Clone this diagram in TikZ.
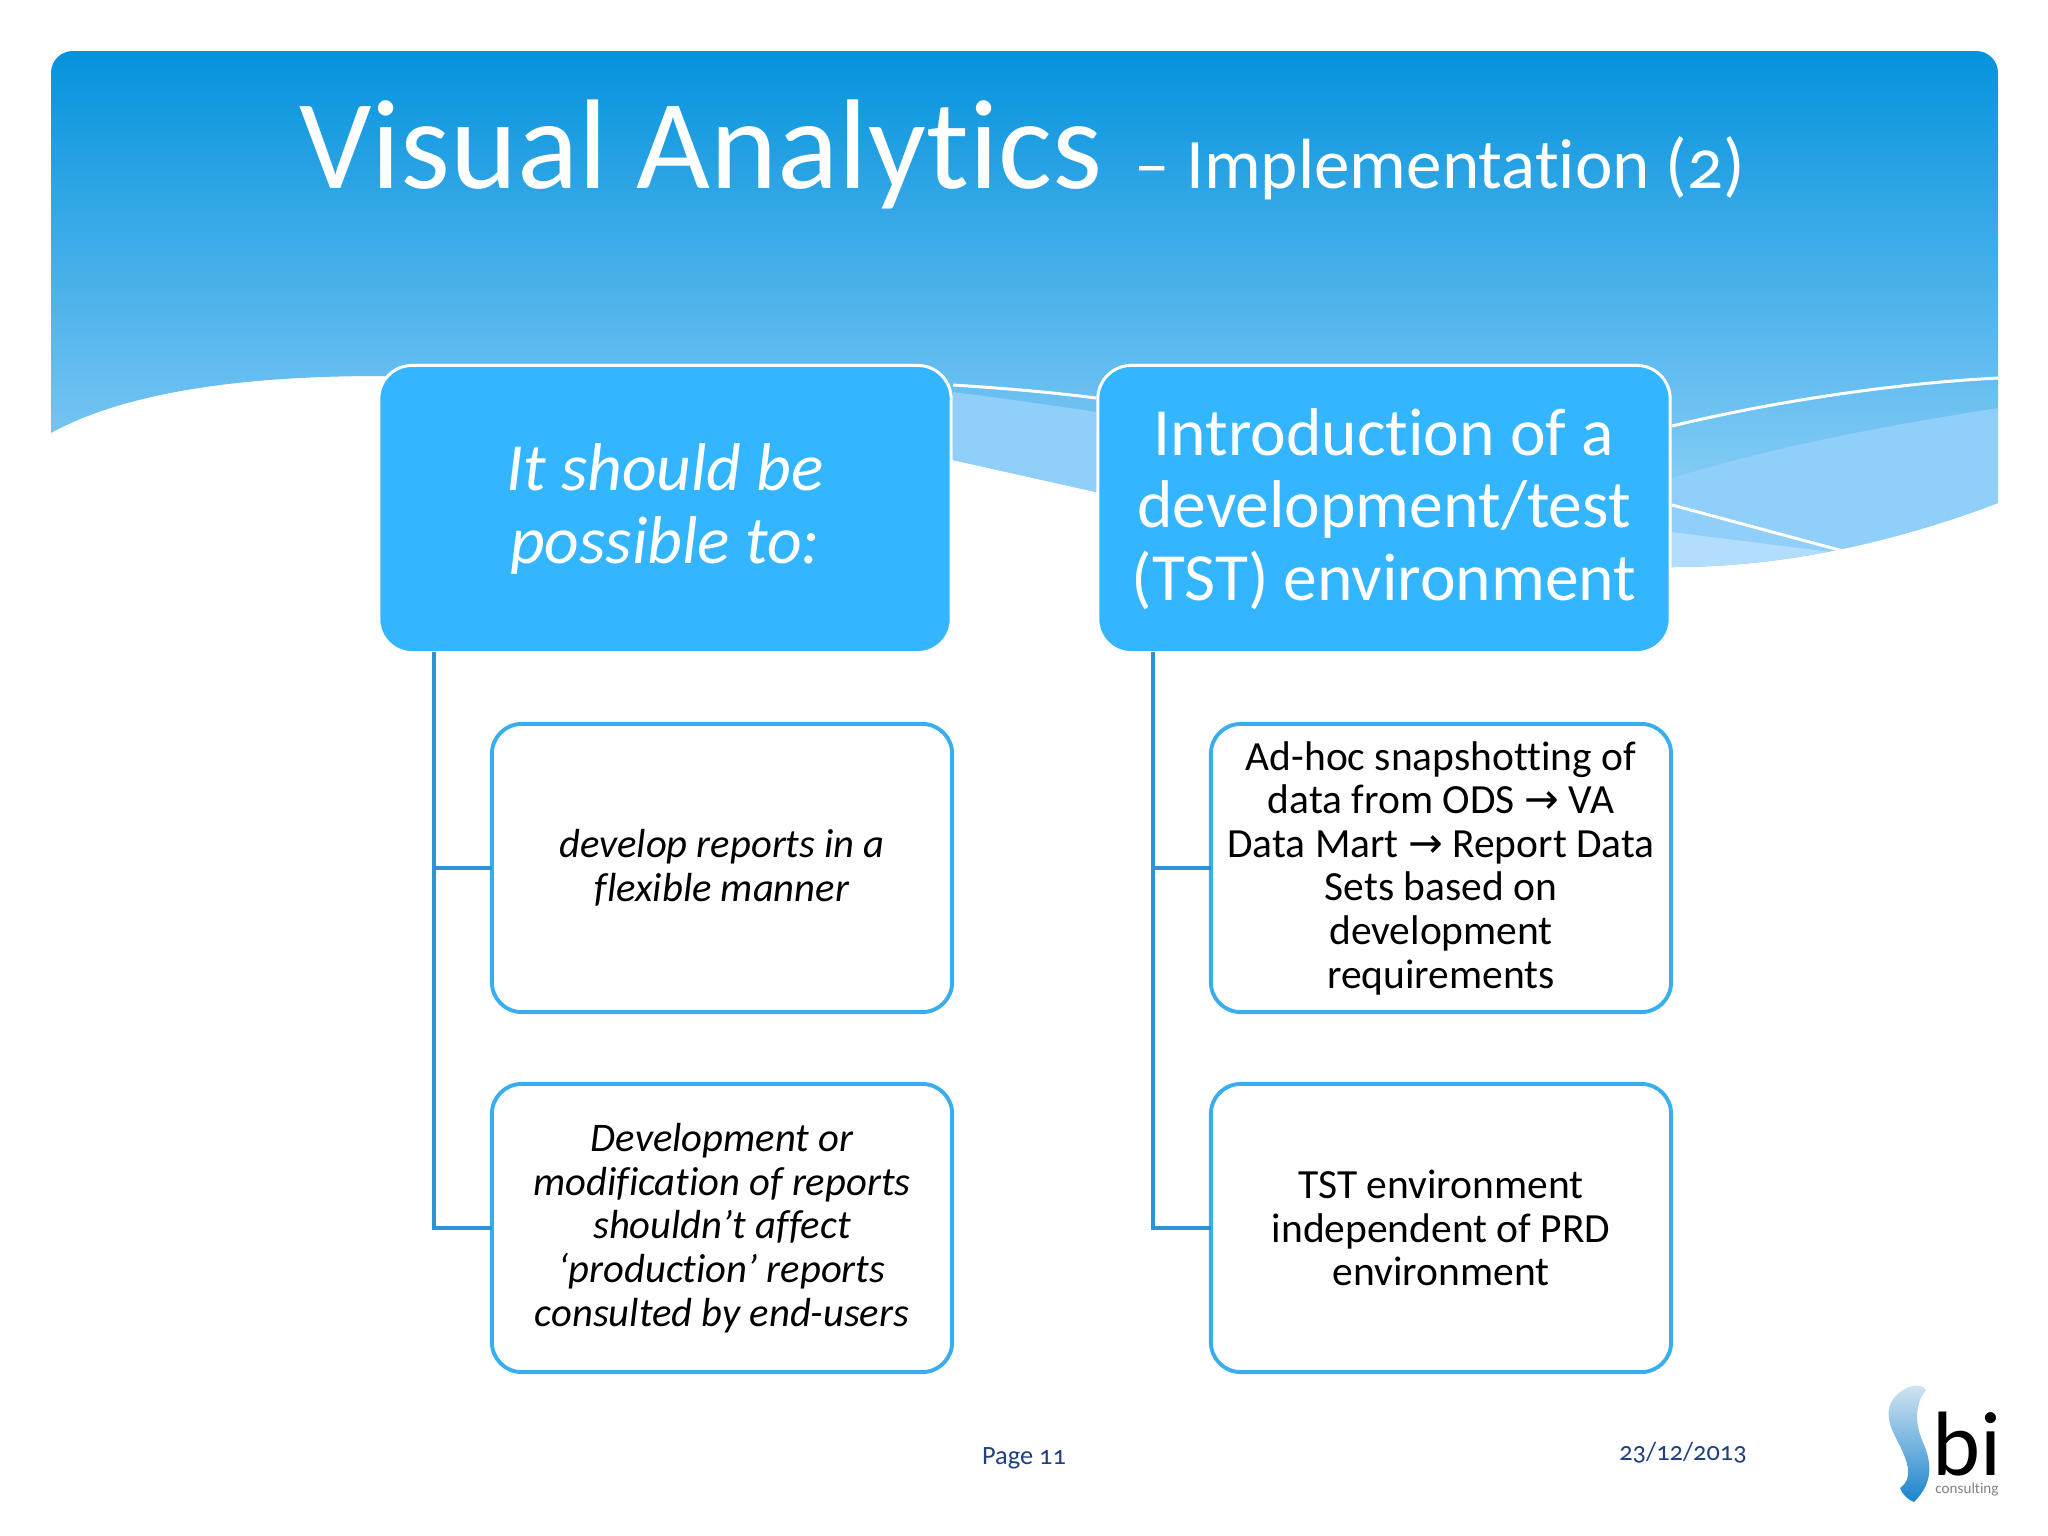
\documentclass[tikz,border=0pt]{standalone}
\usepackage{fontspec}
\setmainfont{Carlito}[Numbers=OldStyle,Ligatures=NoCommon]
\newfontfamily\arrowfont{DejaVu Sans}
\definecolor{bannertop}{HTML}{0593DD}
\definecolor{bannermid}{HTML}{5FBCF2}
\definecolor{bannerlow}{HTML}{9CD6FA}
\definecolor{bandlight}{HTML}{8FCFF9}
\definecolor{bandpale}{HTML}{B2DDFC}
\definecolor{headblue}{HTML}{33B5FF}
\definecolor{itemblue}{HTML}{38AEF0}
\definecolor{stemblue}{HTML}{2E93D4}
\definecolor{footblue}{HTML}{1F3F7F}
\definecolor{logotop}{HTML}{D5E6F2}
\definecolor{logolow}{HTML}{1B84CC}
\newcommand{\bannerpath}{(51,300) [rounded corners=6.2pt] -- (51,51) -- (1998,51) -- (1998,200) [sharp corners] -- (1998,503)
  .. controls (1900,540) and (1790,567) .. (1672,567)
  .. controls (1480,567) and (1280,530) .. (1096,492)
  -- (953,460) .. controls (760,410) and (560,376) .. (380,376)
  .. controls (230,376) and (120,395) .. (51,433) -- cycle}
\tikzset{
  headnode/.style={draw=white,line width=0.85pt,fill=headblue,text=white,rounded corners=9.5pt,
    minimum width=5.72cm,minimum height=2.87cm,inner sep=0pt,outer sep=0pt,align=center,
    font=\fontsize{19.2}{20.6}\selectfont},
  itemnode/.style={draw=itemblue,line width=1.1pt,fill=white,rounded corners=8.5pt,
    minimum width=4.6cm,minimum height=2.88cm,inner sep=0pt,outer sep=0pt,align=center,
    font=\fontsize{11.8}{12.4}\selectfont},
  itemslant/.style={itemnode,font=\fontsize{11.55}{12.4}\selectfont\itshape},
  footnode/.style={text=footblue,inner sep=0pt,font=\fontsize{7.5}{9}\selectfont},
  stem/.style={draw=stemblue,line width=1.1pt},
  waveline/.style={draw=white,line width=0.85pt}
}
\begin{document}
\begin{tikzpicture}[x=0.01cm,y=-0.01cm]
  \useasboundingbox (0,0) rectangle (2048,1536);
  \shade[top color=bannertop,middle color=bannermid,bottom color=bannerlow] \bannerpath;
  \begin{scope}
    \clip \bannerpath;
    \fill[bandlight] (953,392) .. controls (1000,398) and (1050,405) .. (1096,412) -- (1096,600) -- (953,600) -- cycle;
    \fill[bandlight] (1672,478) .. controls (1780,445) and (1890,425) .. (1998,408) -- (1998,600) -- (1672,600) -- cycle;
    \fill[bandpale] (1672,532) -- (1830,552) -- (1830,600) -- (1672,600) -- cycle;
  \end{scope}
  \draw[waveline] (953,385) .. controls (1000,388) and (1050,392) .. (1096,398);
  \draw[waveline] (1672,426) .. controls (1780,400) and (1900,383) .. (1998,378);
  \draw[waveline] (1672,505) -- (1843,551);
  \node[anchor=base,inner sep=0pt] (title) at (1022,188) {\color{white}\fontsize{36.3}{40}\selectfont Visual Analytics\fontsize{20.2}{22}\selectfont\ \ – Implementation (2)};
  \node[headnode] (head0) at (665,509) {\itshape It should be\\\itshape possible to:};
  \node[headnode] (head1) at (1384,509) {Introduction of a\\development/test\\(TST) environment};
  \node[itemslant] (item0) at (722,868) {develop reports in a\\flexible manner};
  \node[itemslant] (item1) at (722,1228) {Development or\\modification of reports\\shouldn’t affect\\‘production’ reports\\consulted by end-users};
  \node[itemnode] (item2) at (1441,868) {Ad-hoc snapshotting of\\data from ODS {\arrowfont →} VA\\Data Mart {\arrowfont →} Report Data\\Sets based on\\development\\requirements};
  \node[itemnode] (item3) at (1441,1228) {TST environment\\independent of PRD\\environment};
  \coordinate (stem0) at (434,652);
  \coordinate (stem1) at (1153,652);
  \begin{scope}[stem]
    \draw (stem0) |- (item0.west);
    \draw (stem0) |- (item1.west);
    \draw (stem1) |- (item2.west);
    \draw (stem1) |- (item3.west);
  \end{scope}
  \node[footnode] (page) at (1024,1458) {Page 11};
  \node[footnode] (date) at (1683,1453) {23/12/2013};
  \shade[top color=logotop,bottom color=logolow] (1900,1392) .. controls (1908,1386) and (1920,1382) .. (1926,1390)
    .. controls (1916,1402) and (1914,1420) .. (1922,1440) .. controls (1932,1462) and (1934,1482) .. (1914,1502)
    .. controls (1908,1500) and (1902,1494) .. (1900,1488) .. controls (1914,1478) and (1908,1462) .. (1898,1442)
    .. controls (1886,1420) and (1884,1405) .. (1900,1392) -- cycle;
  \node[anchor=south,inner sep=0pt,text depth=0pt,font=\fontsize{26}{26}\selectfont] (logobi) at (1967,1476) {bi};
  \node[anchor=north,inner sep=0pt,text=gray,font=\fontsize{4.3}{4.3}\selectfont] (logotext) at (1967,1482) {consulting};
\end{tikzpicture}
\end{document}
